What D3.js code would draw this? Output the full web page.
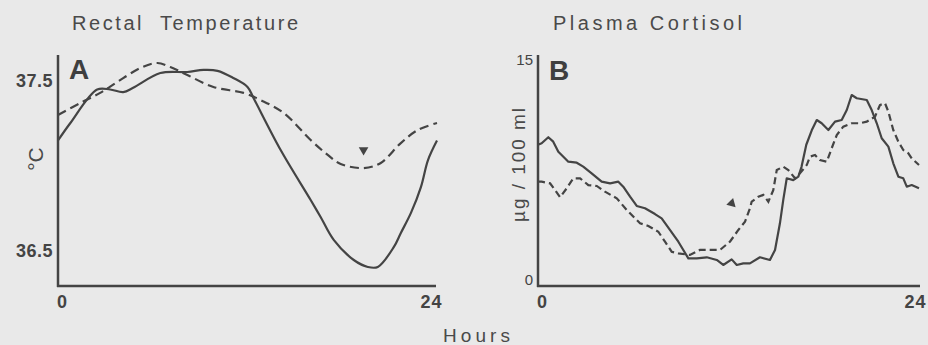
<!DOCTYPE html>
<html><head><meta charset="utf-8">
<script src="https://cdn.jsdelivr.net/npm/d3@7"></script>
<style>
html,body{margin:0;padding:0;background:#e9e9e9;}
svg{display:block;}
text{font-family:"Liberation Sans",Arial,Helvetica,sans-serif;fill:#4a4a4a;}
</style></head>
<body>
<svg id="chart" width="928" height="345"></svg>
<script>
// ---------- DATA ----------
const panelTitles = ["Rectal  Temperature", "Plasma Cortisol"];
const panelLetters = ["A", "B"];
const xTickLabels = [0, 24];
const tempTicks = [37.5, 36.5];
const cortTicks = [15, 0];
const tempUnit = "°C";
const cortUnit = "µg / 100 ml";
const xTitle = "Hours";

// Rectal temperature (°C) vs hour — solid curve
const tempSolid = [
  [0,37.15],[0.76,37.25],[2.48,37.45],[3.3,37.45],[4.13,37.435],[4.76,37.46],
  [6.48,37.547],[8.19,37.553],[9.21,37.565],[10.1,37.56],[11.1,37.518],[12.0,37.465],
  [12.38,37.40],[14.1,37.094],[16.0,36.80],[16.63,36.70],[17.46,36.565],[18.73,36.447],
  [19.62,36.406],[20.25,36.406],[21.27,36.524],[21.71,36.606],[22.35,36.724],
  [22.98,36.876],[23.43,37.035],[24,37.15]
];
// Rectal temperature — dashed curve
const tempDashed = [
  [0,37.30],[1.4,37.37],[2.67,37.43],[3.75,37.494],[5.21,37.576],[6.29,37.606],
  [7.11,37.582],[8.19,37.535],[9.84,37.465],[11.75,37.43],[12.83,37.388],[14.29,37.312],
  [16.0,37.153],[17.08,37.065],[17.9,37.012],[19.37,36.988],[20.44,37.018],
  [21.71,37.135],[22.79,37.212],[24,37.253]
];
const tempArrow = [19.35, 37.094];

// Plasma cortisol (µg/100 ml) vs hour — solid curve
const cortSolid = [
  [0,9.2],[0.23,9.30],[0.65,9.71],[0.96,9.41],[1.28,8.73],[1.91,8.05],[2.44,7.98],
  [2.85,7.71],[3.38,7.26],[4.01,6.69],[4.54,6.58],[5.06,6.69],[5.37,6.35],[5.80,5.67],
  [6.22,5.04],[6.74,4.88],[7.37,4.49],[7.79,4.20],[8.31,3.41],[8.84,2.61],[9.47,1.48],
  [10.0,1.48],[10.63,1.55],[11.26,1.37],[11.67,1.03],[12.20,1.41],[12.52,1.03],
  [12.93,1.14],[13.35,1.14],[13.98,1.55],[14.61,1.37],[14.93,2.05],[15.24,3.86],
  [15.45,5.45],[15.67,6.92],[16.08,6.80],[16.40,7.03],[16.6,7.7],[16.9,9.2],
  [17.25,10.2],[17.56,10.88],[17.87,10.66],[18.29,10.20],[18.71,10.77],[19.13,10.88],
  [19.45,11.56],[19.76,12.58],[20.08,12.36],[20.71,12.24],[21.02,11.56],[21.34,10.66],
  [21.65,9.64],[22.07,9.07],[22.38,7.94],[22.70,7.03],[23.01,6.92],[23.23,6.35],
  [23.54,6.46],[24,6.24]
];
// Plasma cortisol — dashed curve
const cortDashed = [
  [0,6.7],[0.23,6.69],[0.76,6.58],[1.07,6.12],[1.39,5.63],[1.81,6.24],[2.22,6.92],
  [2.65,6.92],[3.17,6.46],[3.70,6.40],[4.22,6.01],[4.96,5.56],[5.59,4.77],[6.11,4.20],
  [6.43,3.86],[6.95,3.68],[7.58,3.29],[8.0,2.61],[8.42,1.93],[8.84,1.82],[9.57,1.71],
  [10.20,2.05],[10.83,2.05],[11.46,2.05],[12.09,2.61],[12.62,3.41],[13.04,3.97],
  [13.35,4.88],[13.46,5.33],[13.88,5.67],[14.19,5.79],[14.51,5.33],[14.82,6.12],
  [15.04,7.48],[15.45,7.71],[15.77,7.48],[16.19,6.92],[16.50,7.26],[16.93,7.82],
  [17.13,8.39],[17.45,8.50],[17.76,8.16],[18.19,8.05],[18.50,8.96],[18.82,9.86],
  [19.23,10.43],[19.76,10.66],[20.28,10.66],[20.71,10.77],[21.23,11.11],[21.54,11.90],
  [21.86,12.02],[22.07,11.45],[22.38,10.20],[22.70,9.41],[23.01,8.84],[23.33,8.62],
  [23.54,8.28],[24,7.82]
];
const cortArrow = [12.2, 5.22];

// ---------- DRAWING ----------
const svg = d3.select("#chart");
const ink = "#444";
const plotTop = 55, plotBottom = 286;
const fontFam = '"Liberation Sans",Arial,sans-serif';

function panel(cfg) {
  const g = svg.append("g");
  const x = d3.scaleLinear().domain([0, 24]).range([cfg.x0, cfg.x1]);
  const y = d3.scaleLinear().domain(cfg.yDomain).range([plotBottom, plotTop]);

  g.append("line").attr("x1", cfg.x0).attr("x2", cfg.x0).attr("y1", plotTop).attr("y2", plotBottom + 1)
    .attr("stroke", ink).attr("stroke-width", 2.5);
  g.append("line").attr("x1", cfg.x0 - 1).attr("x2", cfg.axisEnd).attr("y1", plotBottom).attr("y2", plotBottom)
    .attr("stroke", ink).attr("stroke-width", 2.5);

  const xa = g.append("g").attr("transform", `translate(0,${plotBottom})`)
    .call(d3.axisBottom(x).tickValues(xTickLabels).tickSize(0).tickPadding(9).tickFormat(d3.format("d")));
  xa.select(".domain").remove();
  xa.selectAll("text").attr("dx", (d, i) => cfg.xDx[i]).style("font-size", "18px").style("font-weight", "bold")
    .style("letter-spacing", "1px").style("fill", ink).style("font-family", fontFam);

  const ya = g.append("g").attr("transform", `translate(${cfg.x0},0)`)
    .call(d3.axisLeft(y).tickValues(cfg.yTicks).tickSize(0).tickPadding(cfg.yPad).tickFormat(cfg.yFmt));
  ya.select(".domain").remove();
  ya.selectAll("text").style("font-size", cfg.yFont).style("font-weight", cfg.yWeight)
    .style("letter-spacing", cfg.yLs).style("fill", ink).style("font-family", fontFam);

  g.append("text").attr("x", cfg.titleX).attr("y", 30).text(cfg.title)
    .attr("textLength", cfg.titleLen).attr("lengthAdjust", "spacing")
    .style("font-size", "20px").style("fill", "#4a4a4a").style("white-space", "pre");

  g.append("text").attr("x", cfg.x0 + 11).attr("y", cfg.letterY).text(cfg.letter)
    .style("font-size", "28px").style("font-weight", "bold").style("fill", "#3f3f3f");

  const ut = g.append("text").attr("transform", `translate(${cfg.unitX},${cfg.unitY}) rotate(-90)`)
    .attr("text-anchor", "middle").text(cfg.unit)
    .style("font-size", cfg.unitFont).style("fill", "#4a4a4a");
  if (cfg.unitLen) ut.attr("textLength", cfg.unitLen).attr("lengthAdjust", "spacing");

  const line = d3.line().x(d => x(d[0])).y(d => y(d[1])).curve(cfg.curve);
  g.append("path").datum(cfg.solid).attr("d", line).attr("fill", "none")
    .attr("stroke", ink).attr("stroke-width", 2.2).attr("stroke-linejoin", "round");
  g.append("path").datum(cfg.dashed).attr("d", line).attr("fill", "none")
    .attr("stroke", ink).attr("stroke-width", 2.2).attr("stroke-dasharray", cfg.dash);

  g.append("path").attr("d", d3.symbol(d3.symbolTriangle, 40)())
    .attr("transform", `translate(${x(cfg.arrow[0])},${y(cfg.arrow[1])}) rotate(${cfg.arrowRot})`)
    .attr("fill", ink);
}

panel({
  x0: 58, x1: 437, axisEnd: 436, yDomain: [36.294, 37.653], yTicks: tempTicks,
  yFmt: d3.format(".1f"), yPad: 5, yFont: "18px", yWeight: "bold", yLs: "0.5px",
  xDx: [4, -6],
  title: panelTitles[0], titleX: 72, titleLen: 226, letter: panelLetters[0], letterY: 79,
  unit: tempUnit, unitX: 43, unitY: 159, unitFont: "21px", unitLen: null,
  solid: tempSolid, dashed: tempDashed, dash: "9,5", curve: d3.curveCatmullRom,
  arrow: tempArrow, arrowRot: 180
});

panel({
  x0: 538, x1: 919, axisEnd: 920, yDomain: [-0.4, 15.3], yTicks: cortTicks,
  yFmt: d3.format("d"), yPad: 5, yFont: "15px", yWeight: "normal", yLs: "0px",
  xDx: [4, -4],
  title: panelTitles[1], titleX: 553, titleLen: 189, letter: panelLetters[1], letterY: 80,
  unit: cortUnit, unitX: 525, unitY: 165, unitFont: "19px", unitLen: 114,
  solid: cortSolid, dashed: cortDashed, dash: "7,4", curve: d3.curveLinear,
  arrow: cortArrow, arrowRot: 135
});

svg.append("text").attr("x", 443).attr("y", 342).text(xTitle)
  .attr("textLength", 67).attr("lengthAdjust", "spacing")
  .style("font-size", "19px").style("fill", "#4a4a4a");
</script>
</body></html>
